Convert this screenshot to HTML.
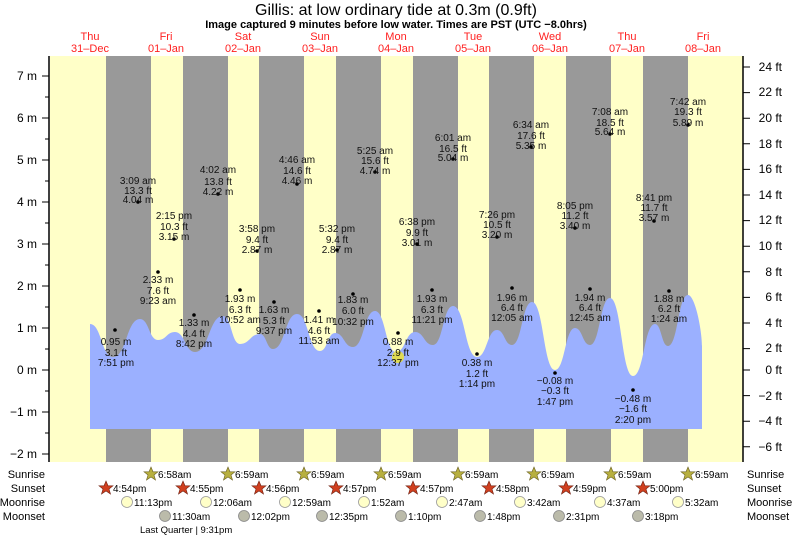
<!DOCTYPE html>
<html><head><meta charset="utf-8"><style>
body{margin:0;background:#fff;}
svg{display:block;font-family:"Liberation Sans",sans-serif;}
</style></head><body>
<svg width="793" height="538" viewBox="0 0 793 538" xmlns="http://www.w3.org/2000/svg">
<rect width="793" height="538" fill="#fff"/>
<text x="396" y="15" font-size="16" text-anchor="middle">Gillis: at low  ordinary tide at 0.3m (0.9ft)</text>
<text x="396" y="28" font-size="11" font-weight="bold" text-anchor="middle">Image captured 9 minutes before low water. Times are PST (UTC −8.0hrs)</text>
<g fill="#ff2020" font-size="11" text-anchor="middle">
<text x="90" y="40">Thu</text><text x="90" y="52">31–Dec</text>
<text x="166" y="40">Fri</text><text x="166" y="52">01–Jan</text>
<text x="243" y="40">Sat</text><text x="243" y="52">02–Jan</text>
<text x="320" y="40">Sun</text><text x="320" y="52">03–Jan</text>
<text x="396" y="40">Mon</text><text x="396" y="52">04–Jan</text>
<text x="473" y="40">Tue</text><text x="473" y="52">05–Jan</text>
<text x="550" y="40">Wed</text><text x="550" y="52">06–Jan</text>
<text x="627" y="40">Thu</text><text x="627" y="52">07–Jan</text>
<text x="703" y="40">Fri</text><text x="703" y="52">08–Jan</text>
</g>
<rect x="50" y="56" width="693" height="406" fill="#ffffc8"/>
<g fill="#999">
<rect x="106" y="56" width="45" height="406"/><rect x="183" y="56" width="45" height="406"/>
<rect x="259" y="56" width="45" height="406"/><rect x="336" y="56" width="45" height="406"/>
<rect x="413" y="56" width="45" height="406"/><rect x="489" y="56" width="45" height="406"/>
<rect x="566" y="56" width="45" height="406"/><rect x="643" y="56" width="45" height="406"/>
</g>
<path fill="#9bb0ff" d="M90,429 L90,324 C101.5,324 101.5,357 113,357 C126.5,357 126.5,319 140,319 C149,319 149,340 158,340 C166.5,340 166.5,332 175,332 C185,332 185,352 195,352 C209,352 209,316 223,316 C231.5,316 231.5,344 240,344 C250,344 250,334 260,334 C266.5,334 266.5,349 273,349 C285,349 285,314 297,314 C308.5,314 308.5,351 320,351 C327.5,351 327.5,333 335,333 C344,333 344,347 353,347 C364,347 364,311 375,311 C385.5,311 385.5,352 396,352 C405.5,352 405.5,332 415,332 C424,332 424,345 433,345 C443,345 443,306 453,306 C465,306 465,357 477,357 C487,357 487,330 497,330 C504.5,330 504.5,345 512,345 C522,345 522,302 532,302 C543.5,302 543.5,370 555,370 C565,370 565,328 575,328 C582.5,328 582.5,345 590,345 C600,345 600,298 610,298 C621.5,298 621.5,376 633,376 C644,376 644,324 655,324 C661.5,324 661.5,346 668,346 C678,346 678,295 688,295 C695,295 702,330 702,346 L702,429 Z"/>
<circle cx="398" cy="357" r="6" fill="#e8e040" opacity="0.9"/>
<g stroke="#000" stroke-width="1.5"><line x1="49" y1="56" x2="49" y2="462"/><line x1="743" y1="56" x2="743" y2="462"/></g>
<g stroke="#000" stroke-width="1">
<path d="M42,76H49M42,118H49M42,160H49M42,202H49M42,244H49M42,286H49M42,328H49M42,370H49M42,412H49M42,454H49"/>
<path d="M45,97H49M45,139H49M45,181H49M45,223H49M45,265H49M45,307H49M45,349H49M45,391H49M45,433H49"/>
<path d="M743,67H750M743,92.6H750M743,118.2H750M743,143.8H750M743,169.4H750M743,195H750M743,220.6H750M743,246.2H750M743,271.8H750M743,297.4H750M743,323H750M743,348.6H750M743,370H750M743,395.6H750M743,421.2H750M743,446.8H750"/>
</g>
<g font-size="12" text-anchor="end">
<text x="37" y="80">7 m</text><text x="37" y="122">6 m</text><text x="37" y="164">5 m</text><text x="37" y="206">4 m</text><text x="37" y="248">3 m</text><text x="37" y="290">2 m</text><text x="37" y="332">1 m</text><text x="37" y="374">0 m</text><text x="37" y="416">−1 m</text><text x="37" y="458">−2 m</text>
</g>
<g font-size="12" text-anchor="end">
<text x="782" y="71">24 ft</text><text x="782" y="96">22 ft</text><text x="782" y="122">20 ft</text><text x="782" y="148">18 ft</text><text x="782" y="173">16 ft</text><text x="782" y="199">14 ft</text><text x="782" y="224">12 ft</text><text x="782" y="250">10 ft</text><text x="782" y="276">8 ft</text><text x="782" y="301">6 ft</text><text x="782" y="327">4 ft</text><text x="782" y="352">2 ft</text><text x="782" y="374">0 ft</text><text x="782" y="400">−2 ft</text><text x="782" y="425">−4 ft</text><text x="782" y="451">−6 ft</text>
</g>
<g fill="#000">
<circle cx="115" cy="330" r="1.8"/><circle cx="138" cy="202" r="1.8"/><circle cx="158" cy="272" r="1.8"/><circle cx="174" cy="239" r="1.8"/><circle cx="194" cy="315" r="1.8"/><circle cx="218" cy="194" r="1.8"/><circle cx="240" cy="290" r="1.8"/><circle cx="257" cy="251" r="1.8"/><circle cx="274" cy="302" r="1.8"/><circle cx="297" cy="184" r="1.8"/><circle cx="319" cy="311" r="1.8"/><circle cx="337" cy="250" r="1.8"/><circle cx="353" cy="294" r="1.8"/><circle cx="375" cy="172" r="1.8"/><circle cx="398" cy="333" r="1.8"/><circle cx="417" cy="244" r="1.8"/><circle cx="432" cy="290" r="1.8"/><circle cx="453" cy="159" r="1.8"/><circle cx="477" cy="354" r="1.8"/><circle cx="497" cy="237" r="1.8"/><circle cx="512" cy="288" r="1.8"/><circle cx="531" cy="147" r="1.8"/><circle cx="555" cy="373" r="1.8"/><circle cx="575" cy="228" r="1.8"/><circle cx="590" cy="289" r="1.8"/><circle cx="610" cy="134" r="1.8"/><circle cx="633" cy="390" r="1.8"/><circle cx="654" cy="221" r="1.8"/><circle cx="669" cy="291" r="1.8"/><circle cx="688" cy="125" r="1.8"/>
</g>
<g font-size="10" text-anchor="middle" fill="#111">
<text x="116" y="345">0.95 m</text><text x="116" y="356">3.1 ft</text><text x="116" y="366">7:51 pm</text>
<text x="138" y="184">3:09 am</text><text x="138" y="194">13.3 ft</text><text x="138" y="203">4.04 m</text>
<text x="158" y="283">2.33 m</text><text x="158" y="294">7.6 ft</text><text x="158" y="304">9:23 am</text>
<text x="174" y="219">2:15 pm</text><text x="174" y="230">10.3 ft</text><text x="174" y="240">3.15 m</text>
<text x="194" y="326">1.33 m</text><text x="194" y="337">4.4 ft</text><text x="194" y="347">8:42 pm</text>
<text x="218" y="173">4:02 am</text><text x="218" y="185">13.8 ft</text><text x="218" y="195">4.22 m</text>
<text x="240" y="302">1.93 m</text><text x="240" y="313">6.3 ft</text><text x="240" y="323">10:52 am</text>
<text x="257" y="232">3:58 pm</text><text x="257" y="243">9.4 ft</text><text x="257" y="253">2.87 m</text>
<text x="274" y="313">1.63 m</text><text x="274" y="324">5.3 ft</text><text x="274" y="334">9:37 pm</text>
<text x="297" y="163">4:46 am</text><text x="297" y="174">14.6 ft</text><text x="297" y="184">4.46 m</text>
<text x="319" y="323">1.41 m</text><text x="319" y="334">4.6 ft</text><text x="319" y="344">11:53 am</text>
<text x="337" y="232">5:32 pm</text><text x="337" y="243">9.4 ft</text><text x="337" y="253">2.87 m</text>
<text x="353" y="303">1.83 m</text><text x="353" y="314">6.0 ft</text><text x="353" y="325">10:32 pm</text>
<text x="375" y="154">5:25 am</text><text x="375" y="164">15.6 ft</text><text x="375" y="174">4.74 m</text>
<text x="398" y="345">0.88 m</text><text x="398" y="356">2.9 ft</text><text x="398" y="366">12:37 pm</text>
<text x="417" y="225">6:38 pm</text><text x="417" y="236">9.9 ft</text><text x="417" y="246">3.01 m</text>
<text x="432" y="302">1.93 m</text><text x="432" y="313">6.3 ft</text><text x="432" y="323">11:21 pm</text>
<text x="453" y="141">6:01 am</text><text x="453" y="152">16.5 ft</text><text x="453" y="161">5.04 m</text>
<text x="477" y="366">0.38 m</text><text x="477" y="377">1.2 ft</text><text x="477" y="387">1:14 pm</text>
<text x="497" y="218">7:26 pm</text><text x="497" y="228">10.5 ft</text><text x="497" y="238">3.20 m</text>
<text x="512" y="301">1.96 m</text><text x="512" y="311">6.4 ft</text><text x="512" y="321">12:05 am</text>
<text x="531" y="128">6:34 am</text><text x="531" y="139">17.6 ft</text><text x="531" y="149">5.35 m</text>
<text x="555" y="384">−0.08 m</text><text x="555" y="394">−0.3 ft</text><text x="555" y="405">1:47 pm</text>
<text x="575" y="209">8:05 pm</text><text x="575" y="219">11.2 ft</text><text x="575" y="229">3.40 m</text>
<text x="590" y="301">1.94 m</text><text x="590" y="311">6.4 ft</text><text x="590" y="321">12:45 am</text>
<text x="610" y="115">7:08 am</text><text x="610" y="126">18.5 ft</text><text x="610" y="135">5.64 m</text>
<text x="633" y="402">−0.48 m</text><text x="633" y="412">−1.6 ft</text><text x="633" y="423">2:20 pm</text>
<text x="654" y="201">8:41 pm</text><text x="654" y="211">11.7 ft</text><text x="654" y="221">3.57 m</text>
<text x="669" y="302">1.88 m</text><text x="669" y="312">6.2 ft</text><text x="669" y="322">1:24 am</text>
<text x="688" y="105">7:42 am</text><text x="688" y="115">19.3 ft</text><text x="688" y="126">5.89 m</text>
</g>
<g font-size="11" text-anchor="end">
<text x="45" y="478">Sunrise</text><text x="45" y="492">Sunset</text><text x="45" y="506">Moonrise</text><text x="45" y="520">Moonset</text>
</g>
<g font-size="11">
<text x="747" y="478">Sunrise</text><text x="747" y="492">Sunset</text><text x="747" y="506">Moonrise</text><text x="747" y="520">Moonset</text>
</g>
<defs>
<path id="st" d="M0,-7 L2,-2.2 7,-2.2 3,1 4.5,6 0,3 -4.5,6 -3,1 -7,-2.2 -2,-2.2Z"/>
</defs>
<g font-size="10">
<g fill="#b8b040" stroke="#6a6020" stroke-width="0.6">
<use href="#st" x="151" y="474"/><use href="#st" x="228" y="474"/><use href="#st" x="304" y="474"/><use href="#st" x="381" y="474"/><use href="#st" x="458" y="474"/><use href="#st" x="534" y="474"/><use href="#st" x="611" y="474"/><use href="#st" x="688" y="474"/>
</g>
<text x="158" y="478">6:58am</text><text x="235" y="478">6:59am</text><text x="311" y="478">6:59am</text><text x="388" y="478">6:59am</text><text x="465" y="478">6:59am</text><text x="541" y="478">6:59am</text><text x="618" y="478">6:59am</text><text x="695" y="478">6:59am</text>
<g fill="#d04020" stroke="#702010" stroke-width="0.6">
<use href="#st" x="106" y="488"/><use href="#st" x="183" y="488"/><use href="#st" x="259" y="488"/><use href="#st" x="336" y="488"/><use href="#st" x="413" y="488"/><use href="#st" x="489" y="488"/><use href="#st" x="566" y="488"/><use href="#st" x="643" y="488"/>
</g>
<text x="113" y="492">4:54pm</text><text x="190" y="492">4:55pm</text><text x="266" y="492">4:56pm</text><text x="343" y="492">4:57pm</text><text x="420" y="492">4:57pm</text><text x="496" y="492">4:58pm</text><text x="573" y="492">4:59pm</text><text x="650" y="492">5:00pm</text>
<g fill="#ffffc8" stroke="#999" stroke-width="0.8">
<circle cx="127" cy="502" r="5.5"/><circle cx="206" cy="502" r="5.5"/><circle cx="285" cy="502" r="5.5"/><circle cx="364" cy="502" r="5.5"/><circle cx="442" cy="502" r="5.5"/><circle cx="520" cy="502" r="5.5"/><circle cx="600" cy="502" r="5.5"/><circle cx="678" cy="502" r="5.5"/>
</g>
<text x="134" y="506">11:13pm</text><text x="213" y="506">12:06am</text><text x="292" y="506">12:59am</text><text x="371" y="506">1:52am</text><text x="449" y="506">2:47am</text><text x="527" y="506">3:42am</text><text x="607" y="506">4:37am</text><text x="685" y="506">5:32am</text>
<g fill="#bbbbaa" stroke="#888" stroke-width="0.8">
<circle cx="165" cy="516" r="5.5"/><circle cx="244" cy="516" r="5.5"/><circle cx="322" cy="516" r="5.5"/><circle cx="401" cy="516" r="5.5"/><circle cx="480" cy="516" r="5.5"/><circle cx="559" cy="516" r="5.5"/><circle cx="638" cy="516" r="5.5"/>
</g>
<text x="172" y="520">11:30am</text><text x="251" y="520">12:02pm</text><text x="329" y="520">12:35pm</text><text x="408" y="520">1:10pm</text><text x="487" y="520">1:48pm</text><text x="566" y="520">2:31pm</text><text x="645" y="520">3:18pm</text>
<text x="140" y="533" font-size="9.5">Last Quarter | 9:31pm</text>
</g>
</svg>
</body></html>
